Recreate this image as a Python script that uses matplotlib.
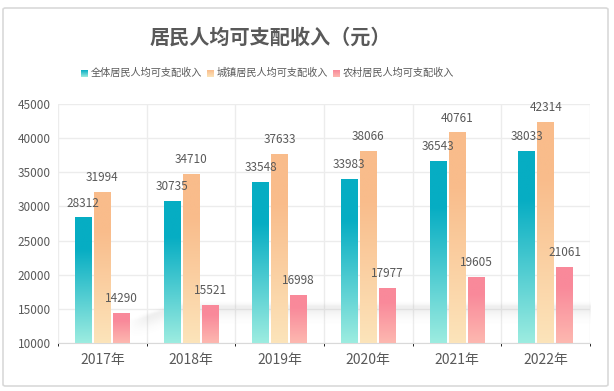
import numpy as np
import matplotlib
matplotlib.use('Agg')
import matplotlib.pyplot as plt
from matplotlib.colors import to_rgb
from matplotlib.patches import FancyBboxPatch

plt.rcParams['font.family'] = ['Noto Sans CJK SC', 'DejaVu Sans']

years = ['2017年', '2018年', '2019年', '2020年', '2021年', '2022年']
series = ['全体居民人均可支配收入', '城镇居民人均可支配收入', '农村居民人均可支配收入']
all_income = [28312, 30735, 33548, 33983, 36543, 38033]
urban_income = [31994, 34710, 37633, 38066, 40761, 42314]
rural_income = [14290, 15521, 16998, 17977, 19605, 21061]
values = [all_income, urban_income, rural_income]

# (top colour, bottom colour) for each series
grads = [('#06adc3', '#9cece0'), ('#f9bc8b', '#fce4ba'), ('#f9899a', '#fdb8b0')]
text_col = '#595959'
ymin, ymax = 10000, 45000


def grad_img(top, bottom, n=100, hold=0.25):
    t = np.linspace(0, 1, n)  # 0 = bottom, 1 = top
    f = np.clip(t / (1 - hold), 0, 1)
    c0, c1 = np.array(to_rgb(bottom)), np.array(to_rgb(top))
    img = c0[None, :] * (1 - f[:, None]) + c1[None, :] * f[:, None]
    return img[:, None, :]


fig = plt.figure(figsize=(6.14, 3.91), dpi=100)
W, H = 614, 391

# card border
fig.add_artist(FancyBboxPatch((3 / W, 5 / H), 605 / W, 378 / H,
                              boxstyle='round,pad=0,rounding_size=0.004',
                              transform=fig.transFigure, fc='white',
                              ec='#d9d9d9', lw=1.2, zorder=0))

ax = fig.add_axes([58 / W, 1 - 343 / H, 532 / W, 239 / H])
ax.set_facecolor('none')

x = np.arange(len(years))
bw = 0.19
step = 0.215

for i, (vals, (top, bot)) in enumerate(zip(values, grads)):
    xs = x + (i - 1) * step
    img = grad_img(top, bot)
    for xi, v in zip(xs, vals):
        ax.imshow(img, extent=(xi - bw / 2, xi + bw / 2, ymin, v),
                  origin='lower', aspect='auto', zorder=3, interpolation='bilinear')
        ax.annotate(f'{v}', (xi, v), xytext=(0, 6), textcoords='offset points',
                    ha='center', va='bottom', fontsize=8.5, color=text_col,
                    annotation_clip=False, zorder=5)

# soft shadow swoosh behind the bars
gx = np.linspace(0, 1, 400)
gy = np.linspace(0, 1, 200)
X, Y = np.meshgrid(gx, gy)
yc = 0.085 + 0.065 * np.clip((X - 0.14) / 0.08, 0, 1)
d = Y - yc
a = np.where(d > 0, np.exp(-(d / 0.012) ** 2), np.exp(-(d / 0.04) ** 2))
a = 0.12 * a * np.clip((X - 0.13) / 0.04, 0, 1)
sh = np.zeros((200, 400, 4))
sh[..., :3] = 0.5
sh[..., 3] = a
ax.imshow(sh, extent=(0, 1, 0, 1), transform=ax.transAxes, origin='lower',
          aspect='auto', zorder=2)

ax.set_xlim(-0.5, len(years) - 0.5)
ax.set_ylim(ymin, ymax)
ax.set_yticks(np.arange(ymin, ymax + 1, 5000))
ax.set_xticks(x)
ax.set_xticklabels(years, fontsize=10, color=text_col)
ax.tick_params(axis='y', labelsize=8.5, labelcolor=text_col, length=0, pad=5)
ax.tick_params(axis='x', length=0, pad=7)

ax.set_xticks(np.arange(-0.5, len(years), 1), minor=True)
ax.grid(axis='y', color='#ececec', lw=1, zorder=1)
ax.grid(axis='x', which='minor', color='#ececec', lw=1, zorder=1)
ax.grid(axis='x', which='major', visible=False)
ax.set_axisbelow(True)
for s in ['top', 'left', 'right']:
    ax.spines[s].set_visible(False)
ax.spines['bottom'].set_color('#d9d9d9')

fig.text(270 / W, 1 - 37 / H, '居民人均可支配收入（元）', ha='center', va='center',
         fontsize=14.5, fontweight='bold', color=text_col)

# legend with small gradient squares
leg_x = [81, 207, 333]
for lx, name, (top, bot) in zip(leg_x, series, grads):
    lax = fig.add_axes([lx / W, 1 - 77 / H, 7 / W, 7 / H])
    lax.imshow(grad_img(top, bot, hold=0.0), origin='lower', aspect='auto')
    lax.axis('off')
    fig.text((lx + 10) / W, 1 - 73 / H, name, ha='left', va='center',
             fontsize=7.3, color=text_col)

fig.savefig('out.png', dpi=100)
